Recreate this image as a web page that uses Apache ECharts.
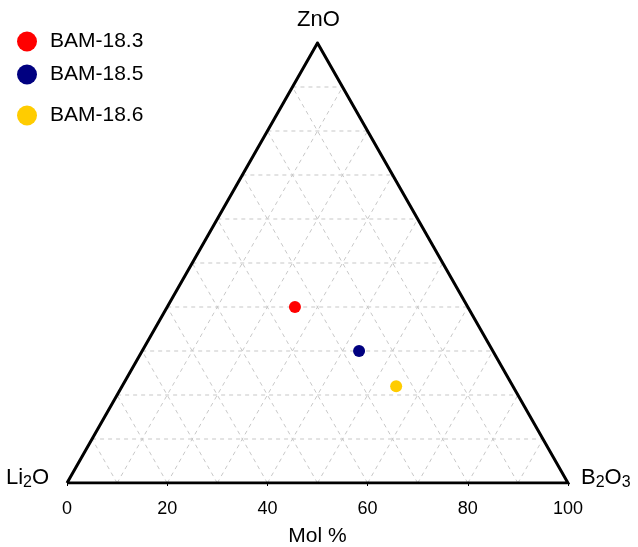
<!DOCTYPE html>
<html><head><meta charset="utf-8">
<script src="https://cdn.jsdelivr.net/npm/echarts@6/dist/echarts.min.js"></script>
<style>html,body{margin:0;padding:0;background:#fff}#c{width:638px;height:547px}</style>
</head><body><div id="c"></div>
<script>
// Ternary data (mol %): [Li2O, B2O3, ZnO]
const seriesNames = ['BAM-18.3', 'BAM-18.5', 'BAM-18.6'];
const seriesColors = ['#ff0000', '#000080', '#ffcc00'];
const li2o = [34.5, 26.7, 23.3];
const b2o3 = [25.5, 43.3, 54.7];
const zno  = [40, 30, 22];
const xTicks = [0, 20, 40, 60, 80, 100];
const gridSteps = [10, 20, 30, 40, 50, 60, 70, 80, 90];

// ternary -> cartesian (x: 0..100 along base, y: 0..100 height fraction)
function tern(b, z) { return [b + z / 2, z]; }

const F = 'Liberation Sans, Arial, sans-serif';
const series = [];
// dashed grid lines
const gridData = [];
gridSteps.forEach(i => {
  gridData.push([tern(0, i), tern(100 - i, i)]);          // constant ZnO
  gridData.push([tern(i, 0), tern(i, 100 - i)]);          // constant B2O3
  gridData.push([tern(100 - i, 0), tern(0, 100 - i)]);    // constant Li2O
});
gridData.forEach(seg => series.push({
  type: 'line', data: seg, symbol: 'none', silent: true, z: 1,
  lineStyle: { color: '#c8c8c8', width: 1, type: [4, 4] }
}));
// triangle outline
series.push({
  type: 'line', data: [tern(0, 0), tern(100, 0), tern(0, 100), tern(0, 0)],
  symbol: 'none', silent: true, z: 3,
  lineStyle: { color: '#000', width: 3, join: 'miter' }
});
// points
seriesNames.forEach((n, k) => series.push({
  type: 'scatter', name: n, z: 5,
  data: [tern(b2o3[k], zno[k])],
  symbolSize: 12, itemStyle: { color: seriesColors[k], opacity: 1 }
}));

const legendTops = [26, 59, 100];
const legends = seriesNames.map((n, k) => ({
  data: [{ name: n, icon: 'circle', itemStyle: { opacity: 1 } }], left: 12, top: legendTops[k], orient: 'vertical',
  itemWidth: 20, itemHeight: 20, itemGap: 10,
  textStyle: { fontFamily: F, fontSize: 21, color: '#000', padding: [0, 0, 0, 8] }
}));

const sub = { font: '16px ' + F, fill: '#000', padding: [9, 0, 0, 0] };
const chart = echarts.init(document.getElementById('c'));
chart.setOption({
  animation: false,
  legend: legends,
  grid: { left: 67, right: 70, top: 43, bottom: 64, outerBoundsMode: 'none', containLabel: false },
  xAxis: {
    type: 'value', min: 0, max: 100, interval: 20,
    axisLine: { show: false }, splitLine: { show: false },
    axisTick: { show: true, length: 3, lineStyle: { color: '#000' } },
    axisLabel: { fontFamily: F, fontSize: 18, color: '#000', margin: 17,
      formatter: v => xTicks.indexOf(v) >= 0 ? String(v) : '' },
    name: 'Mol %', nameLocation: 'middle', nameGap: 43,
    nameTextStyle: { fontFamily: F, fontSize: 21, color: '#000' }
  },
  yAxis: { type: 'value', min: 0, max: 100, show: false },
  graphic: [
    { type: 'text', left: 297, top: 9, style: { text: 'ZnO', font: '22px ' + F, fill: '#000' } },
    { type: 'text', left: 6, top: 467, style: {
      text: '{a|Li}{s|2}{a|O}', rich: { a: { font: '22px ' + F, fill: '#000' }, s: sub } } },
    { type: 'text', left: 581, top: 467, style: {
      text: '{a|B}{s|2}{a|O}{s|3}', rich: { a: { font: '22px ' + F, fill: '#000' }, s: sub } } }
  ],
  series: series
});
</script></body></html>
